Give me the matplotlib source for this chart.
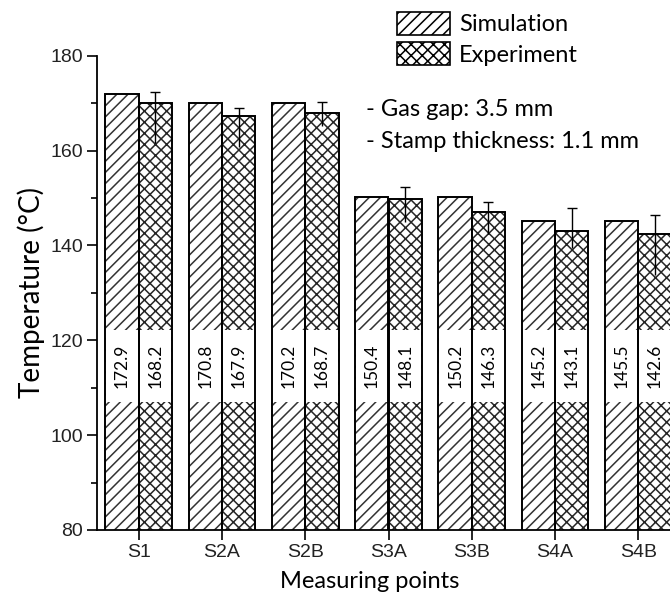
import numpy as np
import matplotlib.pyplot as plt

# data
points = ["S1", "S2A", "S2B", "S3A", "S3B", "S4A", "S4B"]
sim_bar = [172.0, 170.0, 170.0, 150.2, 150.2, 145.1, 145.1]
exp_bar = [170.0, 167.3, 168.0, 149.8, 147.0, 143.0, 142.4]
exp_err_low = [8.4, 6.5, 2.8, 4.8, 4.6, 3.6, 8.7]
exp_err_high = [2.4, 1.7, 2.3, 2.6, 2.1, 4.8, 4.0]
sim_labels = ["172.9", "170.8", "170.2", "150.4", "150.2", "145.2", "145.5"]
exp_labels = ["168.2", "167.9", "168.7", "148.1", "146.3", "143.1", "142.6"]

W, H = 670, 601
fig = plt.figure(figsize=(W / 100, H / 100), dpi=100)
ax = fig.add_axes([97 / W, 71 / H, 583 / W, 474.3 / H])

x = np.arange(len(points))
bw = 0.4
xs = x - bw / 2
xe = x + bw / 2

plt.rcParams['hatch.linewidth'] = 1.1
ax.bar(xs, sim_bar, bw, color='white', edgecolor='0.2', hatch='///', linewidth=0, zorder=1, label='Simulation')
ax.bar(xe, exp_bar, bw, color='white', edgecolor='0.15', hatch='xxx', linewidth=0, zorder=1, label='Experiment')

# white band with the values
band_lo, band_hi = 107.0, 122.1
ax.bar(np.concatenate([xs, xe]), band_hi - band_lo, bw * 0.97, bottom=band_lo, color='white', edgecolor='none', zorder=2)

# bar outlines
ax.bar(xs, sim_bar, bw, fill=False, edgecolor='black', linewidth=1.4, zorder=3)
ax.bar(xe, exp_bar, bw, fill=False, edgecolor='black', linewidth=1.4, zorder=3)

for i in range(len(points)):
    ax.text(xs[i], (band_lo + band_hi) / 2, sim_labels[i], rotation=90, ha='center', va='center',
            fontsize=12.5, family='Lato', zorder=5)
    ax.text(xe[i], (band_lo + band_hi) / 2, exp_labels[i], rotation=90, ha='center', va='center',
            fontsize=12.5, family='Lato', zorder=5)

# error bars (only the upper end has a cap)
lo = np.array(exp_bar) - np.array(exp_err_low)
hi = np.array(exp_bar) + np.array(exp_err_high)
ax.vlines(xe, lo, hi, color='black', linewidth=1.0, zorder=4)
ax.hlines(hi, xe - 0.06, xe + 0.06, color='black', linewidth=1.0, zorder=4)

ax.set_xlim(-0.5, 6.5)
ax.set_ylim(80, 180)
ax.set_yticks(np.arange(80, 181, 20))
ax.set_yticks(np.arange(90, 180, 20), minor=True)
ax.set_xticks(x)
ax.set_xticklabels(points)
for s in ['top', 'right']:
    ax.spines[s].set_visible(False)
ax.spines['left'].set_linewidth(1.3)
ax.spines['bottom'].set_linewidth(1.3)
ax.tick_params(axis='both', which='major', length=7, width=1.2, direction='out', pad=3)
ax.tick_params(axis='y', which='minor', length=4, width=1.2, direction='out')
for lab in ax.get_xticklabels() + ax.get_yticklabels():
    lab.set_family('Liberation Sans')
    lab.set_fontsize(14)
    lab.set_color('#222222')

ax.set_ylabel("Temperature (°C)", family='Lato', fontsize=20, labelpad=4)
fig.text(370 / W, 1 - 581 / H, "Measuring points", family='Lato', fontsize=17, ha='center', va='center')

fs = 17
fpx = fs * 100 / 72
leg = ax.legend(loc='upper left', bbox_to_anchor=(397 / W, 1 - 12 / H), bbox_transform=fig.transFigure,
                frameon=False, prop={'family': 'Lato', 'size': fs}, handlelength=53 / fpx,
                handleheight=26 / fpx, handletextpad=9 / fpx, labelspacing=0.3, borderpad=0, borderaxespad=0)
for p in leg.get_patches():
    p.set_edgecolor('black')
    p.set_linewidth(1.2)

fig.text(366 / W, 1 - 109 / H, "- Gas gap: 3.5 mm", family='Lato', fontsize=17, ha='left', va='center')
fig.text(366 / W, 1 - 141 / H, "- Stamp thickness: 1.1 mm", family='Lato', fontsize=17, ha='left', va='center')

fig.savefig("out.png", dpi=100)
